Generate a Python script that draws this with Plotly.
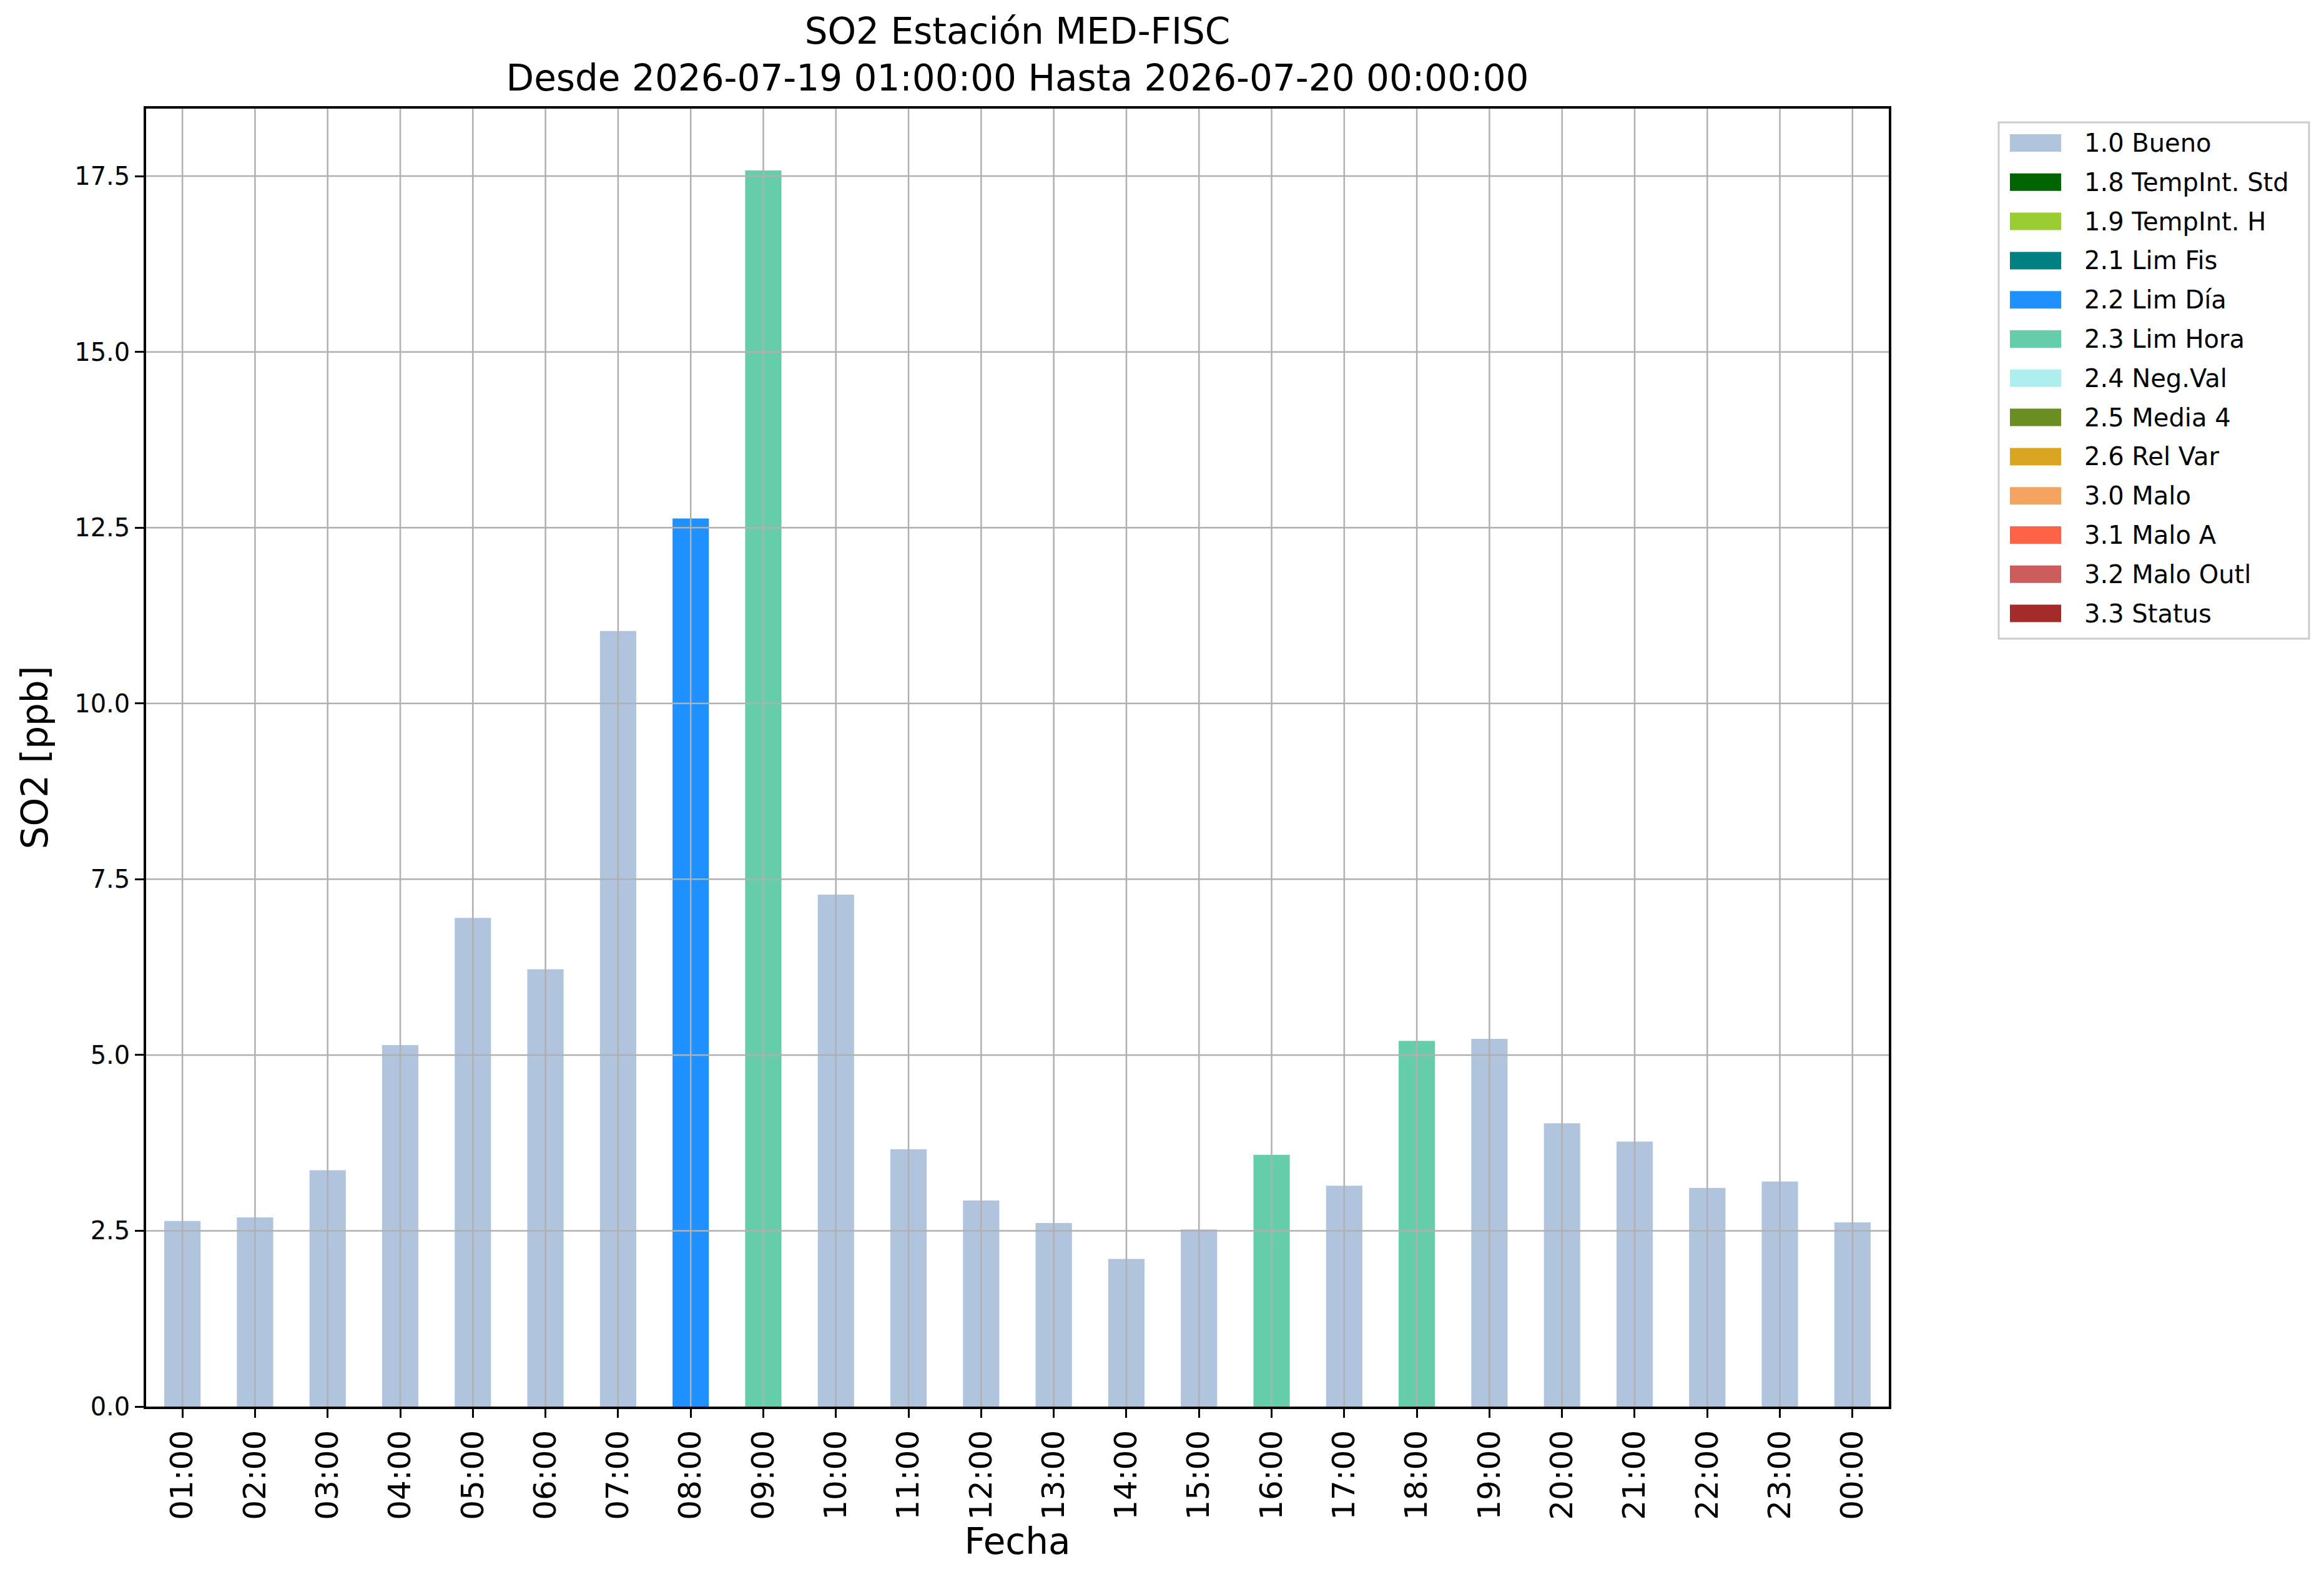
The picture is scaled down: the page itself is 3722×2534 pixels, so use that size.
import plotly.graph_objects as go

# horas del dia (eje x) y concentracion de SO2 [ppb]
hours = ['01:00', '02:00', '03:00', '04:00', '05:00', '06:00', '07:00', '08:00',
         '09:00', '10:00', '11:00', '12:00', '13:00', '14:00', '15:00', '16:00',
         '17:00', '18:00', '19:00', '20:00', '21:00', '22:00', '23:00', '00:00']
so2 = [2.64, 2.69, 3.36, 5.14, 6.95, 6.22, 11.03, 12.63,
       17.58, 7.28, 3.66, 2.93, 2.61, 2.10, 2.52, 3.58,
       3.14, 5.20, 5.23, 4.03, 3.77, 3.11, 3.20, 2.62]
flags = ['1.0', '1.0', '1.0', '1.0', '1.0', '1.0', '1.0', '2.2',
         '2.3', '1.0', '1.0', '1.0', '1.0', '1.0', '1.0', '2.3',
         '1.0', '2.3', '1.0', '1.0', '1.0', '1.0', '1.0', '1.0']

flag_codes = ['1.0', '1.8', '1.9', '2.1', '2.2', '2.3', '2.4', '2.5', '2.6',
              '3.0', '3.1', '3.2', '3.3']
flag_names = ['1.0 Bueno', '1.8 TempInt. Std', '1.9 TempInt. H', '2.1 Lim Fis',
              '2.2 Lim Día', '2.3 Lim Hora', '2.4 Neg.Val', '2.5 Media 4',
              '2.6 Rel Var', '3.0 Malo', '3.1 Malo A', '3.2 Malo Outl', '3.3 Status']
flag_colors = ['#B0C4DE', '#006400', '#9ACD32', '#008080', '#1E90FF', '#66CDAA',
               '#AFEEEE', '#6B8E23', '#DAA520', '#F4A460', '#FF6347', '#CD5C5C',
               '#A52A2A']

y_ticks = [0.0, 2.5, 5.0, 7.5, 10.0, 12.5, 15.0, 17.5]

FONT = 'DejaVu Sans'
GRID = '#b0b0b0'
W, H = 3722, 2534
L, R, T, B = 226, 705, 166, 289
PW, PH = W - L - R, H - T - B


def px(x):
    # pixel horizontal -> coordenada paper
    return (x - L) / PW


def py(y):
    # pixel vertical (desde arriba) -> coordenada paper
    return (H - B - y) / PH


fig = go.Figure()

for code, name, color in zip(flag_codes, flag_names, flag_colors):
    ys = [v if f == code else None for v, f in zip(so2, flags)]
    fig.add_trace(go.Bar(x=hours, y=ys, name=name, marker_color=color,
                         marker_line_width=0, width=0.5))

# rejilla por encima de las barras (como en matplotlib)
for h in hours:
    fig.add_shape(type='line', xref='x', yref='paper', x0=h, x1=h, y0=0, y1=1,
                  line=dict(color=GRID, width=2.5), layer='above')
for t in y_ticks[1:]:
    fig.add_shape(type='line', xref='paper', yref='y', x0=0, x1=1, y0=t, y1=t,
                  line=dict(color=GRID, width=2.5), layer='above')

# leyenda fuera del area de trazado, con muestras rectangulares
fig.add_shape(type='rect', xref='paper', yref='paper',
              x0=px(3193), x1=px(3690), y0=py(188), y1=py(1015),
              line=dict(color='#cccccc', width=3), fillcolor='white')
row0, step = 221, 62.8
for i, (name, color) in enumerate(zip(flag_names, flag_colors)):
    yc = row0 + i * step
    fig.add_shape(type='rect', xref='paper', yref='paper',
                  x0=px(3211), x1=px(3293), y0=py(yc - 14), y1=py(yc + 14),
                  line_width=0, fillcolor=color)
    fig.add_annotation(text=name, xref='paper', yref='paper', x=px(3328), y=py(yc),
                       xanchor='left', yanchor='middle', showarrow=False,
                       font=dict(size=40, family=FONT, color='black'))

fig.update_layout(
    width=W, height=H,
    margin=dict(l=L, r=R, t=T, b=B),
    paper_bgcolor='white', plot_bgcolor='white',
    barmode='overlay', showlegend=False,
    font=dict(family=FONT, color='black'),
    title=dict(text='SO2 Estación MED-FISC<br>Desde 2026-07-19 01:00:00 Hasta 2026-07-20 00:00:00',
               xref='paper', x=0.5, xanchor='center', y=0.9755, yanchor='middle',
               font=dict(size=58, family=FONT)),
)

fig.update_xaxes(
    type='category', range=[-0.5, 23.5],
    showgrid=False, showline=True, mirror=True, linecolor='black', linewidth=3.5,
    ticks='outside', ticklen=14, tickwidth=3.3, tickcolor='black',
    tickangle=-90, tickfont=dict(size=50, family=FONT),
    title=dict(text='Fecha', font=dict(size=58, family=FONT), standoff=10),
)
fig.update_yaxes(
    range=[0, 18.46], tickvals=y_ticks, ticktext=[f'{t:.1f}' for t in y_ticks],
    showgrid=False, zeroline=False, showline=True, mirror=True,
    linecolor='black', linewidth=3.5,
    ticks='outside', ticklen=14, tickwidth=3.3, tickcolor='black',
    tickfont=dict(size=40, family=FONT),
    title=dict(text='SO2 [ppb]', font=dict(size=58, family=FONT), standoff=25),
)

fig.write_html('out.html')
